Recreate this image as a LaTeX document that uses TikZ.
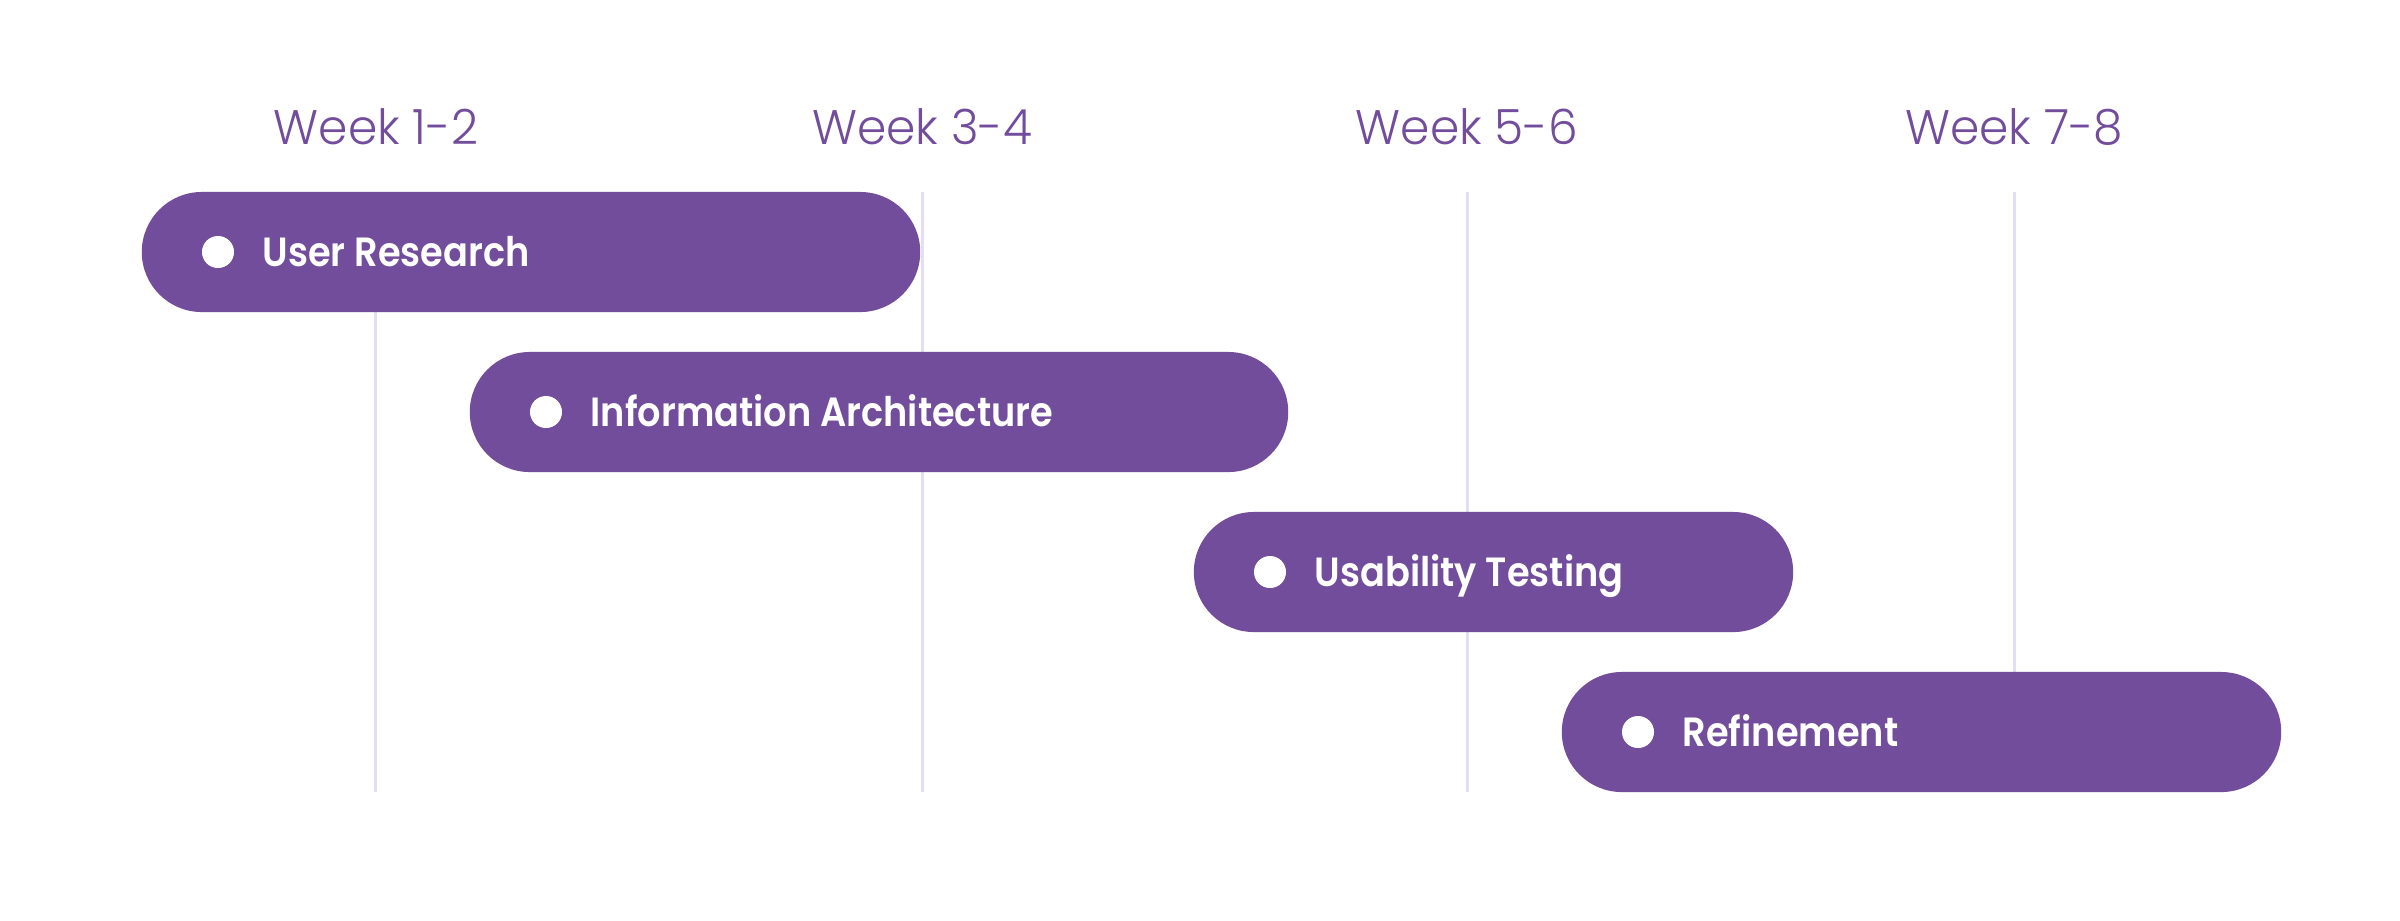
\documentclass[tikz,border=0pt]{standalone}
\usepackage{fontspec}
\setmainfont{Poppins}
\newfontfamily\weekfont{Poppins}[UprightFont=* Light, FakeStretch=0.97]
\newfontfamily\barfont{Poppins}[UprightFont=* SemiBold, FakeStretch=0.9]
\definecolor{barpurple}{RGB}{114,77,156}
\definecolor{gridline}{RGB}{227,222,242}
\begin{document}
\begin{tikzpicture}[x=0.01cm,y=-0.01cm,
  bar/.style={fill=barpurple, draw=none, rounded corners=0.6cm, minimum height=1.2cm, inner sep=0pt, outer sep=0pt},
  dotmark/.style={circle, fill=white, draw=none, minimum size=0.32cm, inner sep=0pt},
  barlabel/.style={anchor=base west, text=white, font=\barfont\fontsize{11.6}{13}\selectfont, inner sep=0pt},
  weeklabel/.style={anchor=base, text=barpurple, font=\weekfont\fontsize{13.8}{16}\selectfont, inner sep=0pt},
  grid/.style={draw=gridline, line width=0.03cm}
]
\useasboundingbox (0,0) rectangle (2400,920);
% week labels
\node[weeklabel] (w1) at (376,144) {Week 1-2};
\node[weeklabel] (w2) at (922,144) {Week 3-4};
\node[weeklabel] (w3) at (1467,144) {Week 5-6};
\node[weeklabel] (w4) at (2014,144) {Week 7-8};
% grid lines
\coordinate (g1t) at (375,192); \coordinate (g1b) at (375,792);
\coordinate (g2t) at (922,192); \coordinate (g2b) at (922,792);
\coordinate (g3t) at (1467,192); \coordinate (g3b) at (1467,792);
\coordinate (g4t) at (2014,192); \coordinate (g4b) at (2014,792);
\draw[grid] (g1t) -- (g1b);
\draw[grid] (g2t) -- (g2b);
\draw[grid] (g3t) -- (g3b);
\draw[grid] (g4t) -- (g4b);
% bars
\node[bar, minimum width=7.78cm] (b1) at (531,252) {};
\node[bar, minimum width=8.18cm] (b2) at (879,412) {};
\node[bar, minimum width=5.99cm] (b3) at (1493.5,572) {};
\node[bar, minimum width=7.19cm] (b4) at (1921.5,732) {};
% dots
\node[dotmark] (d1) at (218,252) {};
\node[dotmark] (d2) at (546,412) {};
\node[dotmark] (d3) at (1270,572) {};
\node[dotmark] (d4) at (1638,732) {};
% labels
\node[barlabel] (l1) at (262,266) {User Research};
\node[barlabel] (l2) at (590,426) {Information Architecture};
\node[barlabel] (l3) at (1314,586) {Usability Testing};
\node[barlabel] (l4) at (1682,746) {Refinement};
\end{tikzpicture}
\end{document}
